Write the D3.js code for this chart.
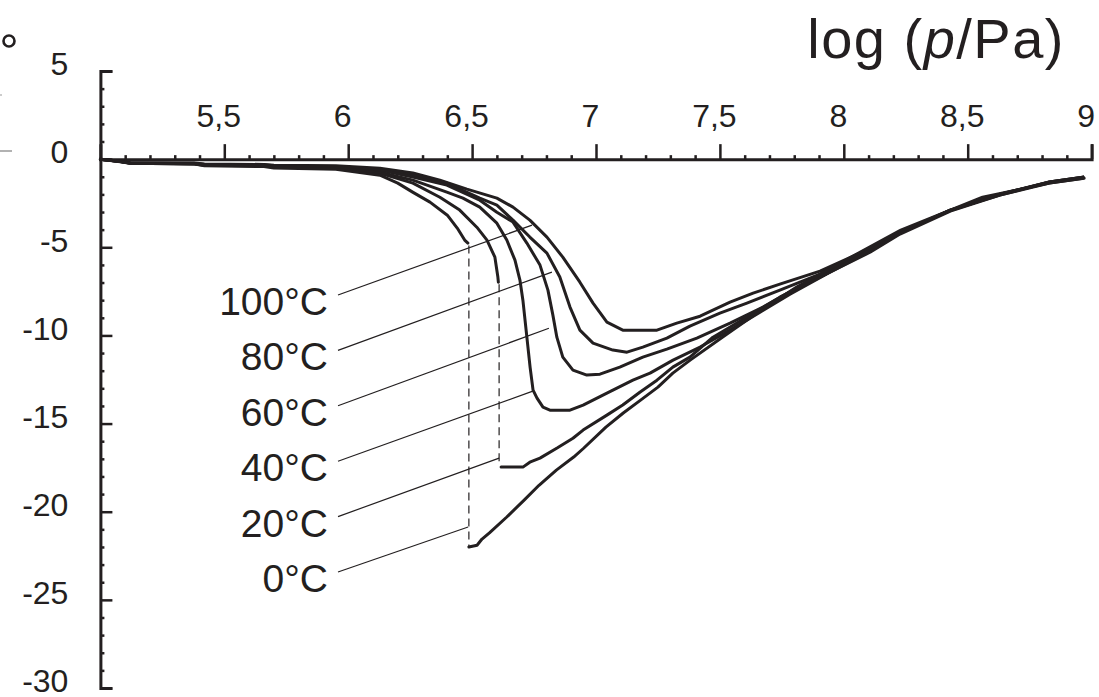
<!DOCTYPE html>
<html>
<head>
<meta charset="utf-8">
<script src="https://cdn.jsdelivr.net/npm/d3@7"></script>
<style>
  body { margin: 0; background: #fff; }
  svg { display: block; }
  text { font-family: "Liberation Sans", Arial, sans-serif; fill: #231f20; }
</style>
</head>
<body>
<svg id="chart" width="1099" height="697"></svg>
<script>
// Axis ticks and labels
const xTickValues = [5.5, 6, 6.5, 7, 7.5, 8, 8.5, 9];
const xTickLabels = ["5,5", "6", "6,5", "7", "7,5", "8", "8,5", "9"];
const yTickValues = [5, 0, -5, -10, -15, -20, -25, -30];
const yTickLabels = ["5", "0", "-5", "-10", "-15", "-20", "-25", "-30"];
const temperatures = ["100°C", "80°C", "60°C", "40°C", "20°C", "0°C"];

// Isotherms: [log(p/Pa), value]
const c100 = [[5.00,0],[5.08,-0.12],[5.12,-0.2],[5.38,-0.22],[5.42,-0.28],[5.66,-0.3],[5.7,-0.34],[5.95,-0.38],[6.128,-0.51],[6.261,-0.79],[6.370,-1.19],[6.479,-1.70],[6.600,-2.21],[6.665,-2.72],[6.733,-3.46],[6.802,-4.42],[6.866,-5.56],[6.935,-6.98],[6.988,-8.17],[7.044,-9.25],[7.108,-9.70],[7.246,-9.70],[7.326,-9.30],[7.420,-8.91],[7.541,-8.11],[7.634,-7.60],[7.742,-7.09],[7.904,-6.35],[8.065,-5.33],[8.227,-4.14],[8.43,-2.92],[8.63,-2.0],[8.83,-1.33],[8.965,-1.05]];
const c80 = [[5.00,0],[5.08,-0.12],[5.12,-0.22],[5.38,-0.24],[5.42,-0.3],[5.66,-0.32],[5.7,-0.38],[5.95,-0.42],[6.128,-0.57],[6.261,-0.91],[6.398,-1.36],[6.531,-2.21],[6.600,-2.61],[6.665,-3.46],[6.733,-4.42],[6.802,-5.33],[6.854,-6.69],[6.895,-8.39],[6.935,-9.70],[6.988,-10.44],[7.068,-10.83],[7.125,-10.95],[7.189,-10.66],[7.286,-10.15],[7.379,-9.47],[7.500,-8.74],[7.609,-8.17],[7.742,-7.43],[7.904,-6.52],[8.065,-5.39],[8.227,-4.20],[8.43,-2.89],[8.63,-1.99],[8.83,-1.30],[8.965,-1.02]];
const c60 = [[5.00,0],[5.08,-0.14],[5.12,-0.22],[5.38,-0.25],[5.42,-0.32],[5.66,-0.34],[5.7,-0.4],[5.95,-0.45],[6.128,-0.62],[6.261,-1.02],[6.398,-1.47],[6.531,-2.33],[6.600,-3.01],[6.665,-3.57],[6.721,-4.76],[6.774,-6.01],[6.806,-7.43],[6.826,-8.85],[6.842,-10.10],[6.866,-11.23],[6.907,-11.97],[6.963,-12.25],[7.016,-12.20],[7.096,-11.80],[7.189,-11.23],[7.286,-10.78],[7.407,-10.15],[7.541,-9.30],[7.674,-8.39],[7.795,-7.43],[7.944,-6.41],[8.106,-5.22],[8.227,-4.20],[8.43,-2.89],[8.63,-2.04],[8.83,-1.30],[8.965,-1.02]];
const c40 = [[5.00,0],[5.08,-0.14],[5.12,-0.22],[5.38,-0.26],[5.42,-0.33],[5.66,-0.36],[5.7,-0.42],[5.95,-0.48],[6.128,-0.74],[6.261,-1.19],[6.398,-1.87],[6.463,-2.21],[6.531,-2.72],[6.600,-3.63],[6.640,-4.59],[6.673,-5.73],[6.693,-6.86],[6.705,-8.0],[6.721,-10.1],[6.734,-11.8],[6.746,-13.1],[6.762,-13.56],[6.786,-14.07],[6.814,-14.24],[6.895,-14.24],[6.948,-13.95],[7.044,-13.27],[7.149,-12.54],[7.218,-12.14],[7.311,-11.40],[7.420,-10.66],[7.541,-9.70],[7.662,-8.68],[7.783,-7.66],[7.944,-6.41],[8.106,-5.28],[8.227,-4.25],[8.43,-2.95],[8.63,-2.04],[8.83,-1.36],[8.965,-1.08]];
const c20Upper = [[5.00,0],[5.08,-0.14],[5.12,-0.23],[5.38,-0.27],[5.42,-0.35],[5.66,-0.38],[5.7,-0.45],[5.95,-0.52],[6.13,-0.8],[6.261,-1.36],[6.370,-2.16],[6.450,-2.89],[6.519,-3.86],[6.560,-4.59],[6.592,-5.56],[6.604,-6.69],[6.606,-6.98]];
const c20Lower = [[6.617,-17.47],[6.705,-17.47],[6.733,-17.19],[6.774,-16.96],[6.843,-16.39],[6.907,-15.83],[6.948,-15.37],[7.044,-14.52],[7.108,-13.95],[7.177,-13.22],[7.246,-12.54],[7.310,-11.80],[7.379,-11.23],[7.472,-10.10],[7.609,-8.96],[7.742,-7.83],[7.904,-6.69],[8.065,-5.45],[8.227,-4.14],[8.43,-2.89],[8.63,-1.99],[8.83,-1.30],[8.965,-1.02]];
const c0Upper = [[5.00,0],[5.08,-0.15],[5.12,-0.24],[5.38,-0.28],[5.42,-0.38],[5.66,-0.42],[5.7,-0.5],[5.95,-0.58],[6.128,-0.91],[6.20,-1.36],[6.26,-1.87],[6.33,-2.44],[6.40,-3.18],[6.44,-3.91],[6.47,-4.59],[6.483,-4.76]];
const c0Lower = [[6.487,-22.0],[6.52,-21.9],[6.54,-21.55],[6.57,-21.2],[6.64,-20.3],[6.71,-19.34],[6.77,-18.5],[6.84,-17.64],[6.91,-16.9],[6.95,-16.4],[7.04,-15.2],[7.11,-14.4],[7.18,-13.67],[7.25,-12.93],[7.31,-12.14],[7.38,-11.4],[7.51,-10.1],[7.65,-8.73],[7.81,-7.26],[8.03,-5.56],[8.23,-4.03],[8.43,-2.89],[8.56,-2.16],[8.83,-1.36],[8.97,-1.08]];

// Jumps between branches (log p, upper value, lower value)
const jumpX = [6.487, 6.609];
const jumpTop = [-4.9, -7.1];
const jumpBottom = [-22.0, -17.3];

// Points on the isotherms that the label leaders touch
const leaderX = [6.742, 6.822, 6.810, 6.745, 6.609, 6.484];
const leaderY = [-3.74, -6.41, -9.59, -13.16, -16.96, -20.87];

const ink = "#231f20";
const svg = d3.select("#chart");

const x = d3.scaleLinear().domain([5, 9]).range([100.4, 1091.6]);
const y = d3.scaleLinear().domain([5, -30]).range([71, 688]);

// Fragments of the clipped vertical title at the left edge
svg.append("circle").attr("cx", 9).attr("cy", 41).attr("r", 5.5)
  .attr("fill", "none").attr("stroke", ink).attr("stroke-width", 2.6);
svg.append("line").attr("x1", 0).attr("x2", 12).attr("y1", 151).attr("y2", 151)
  .attr("stroke", "#999").attr("stroke-width", 1.5);
svg.append("line").attr("x1", 0).attr("x2", 2).attr("y1", 95).attr("y2", 95)
  .attr("stroke", "#bbb").attr("stroke-width", 1.5);

// X axis (along value 0, ticks pointing up)
const xMinor = d3.range(51, 91).map(d => d / 10).filter(d => Math.round(d * 10) % 5 !== 0);
const xAxisG = svg.append("g").attr("transform", `translate(0,${y(0)})`);
xAxisG.call(d3.axisTop(x).tickValues(xTickValues).tickSize(15).tickSizeOuter(15)
  .tickPadding(17).tickFormat((d, i) => xTickLabels[i]));
xAxisG.select(".domain").attr("stroke", ink).attr("stroke-width", 3);
xAxisG.selectAll(".tick line").attr("stroke", ink).attr("stroke-width", 2.5);
xAxisG.selectAll(".tick text").attr("dx", -6).style("font-size", "32px").attr("fill", ink);
const xMinorG = svg.append("g").attr("transform", `translate(0,${y(0)})`);
xMinorG.call(d3.axisTop(x).tickValues(xMinor).tickSize(4).tickFormat(""));
xMinorG.select(".domain").remove();
xMinorG.selectAll(".tick line").attr("stroke", ink).attr("stroke-width", 2.5);

// Y axis (ticks pointing into the plot)
const yMinor = d3.range(-30, 6).filter(d => d % 5 !== 0);
const yAxisG = svg.append("g").attr("transform", `translate(${x(5)},0)`);
yAxisG.call(d3.axisLeft(y).tickValues(yTickValues).tickSize(-12).tickSizeOuter(-12)
  .tickPadding(32).tickFormat((d, i) => yTickLabels[i]));
yAxisG.select(".domain").attr("stroke", ink).attr("stroke-width", 3);
yAxisG.selectAll(".tick line").attr("stroke", ink).attr("stroke-width", 2.5);
yAxisG.selectAll(".tick text").attr("dy", "0.12em").style("font-size", "32px").attr("fill", ink);
const yMinorG = svg.append("g").attr("transform", `translate(${x(5)},0)`);
yMinorG.call(d3.axisLeft(y).tickValues(yMinor).tickSize(-4).tickFormat(""));
yMinorG.select(".domain").remove();
yMinorG.selectAll(".tick line").attr("stroke", ink).attr("stroke-width", 2.5);

// Axis title
const title = svg.append("text").attr("x", 1065).attr("y", 58).attr("text-anchor", "end")
  .style("font-size", "56px").style("letter-spacing", "1.5px");
title.append("tspan").text("log (");
title.append("tspan").style("font-style", "italic").text("p");
title.append("tspan").text("/Pa)");

// Dashed jumps
svg.append("g").selectAll("line").data(jumpX).join("line")
  .attr("x1", d => x(d)).attr("x2", d => x(d))
  .attr("y1", (d, i) => y(jumpTop[i])).attr("y2", (d, i) => y(jumpBottom[i]))
  .attr("stroke", ink).attr("stroke-width", 1.2).attr("stroke-dasharray", "8,5");

// Label leaders
const labelRight = 328;
const labelBase = d3.range(6).map(i => 315 + i * 55.4);
svg.append("g").selectAll("line").data(leaderX).join("line")
  .attr("x1", labelRight + 10).attr("y1", (d, i) => labelBase[i] - 20)
  .attr("x2", d => x(d)).attr("y2", (d, i) => y(leaderY[i]))
  .attr("stroke", ink).attr("stroke-width", 1.2);

// Labels
svg.append("g").selectAll("text").data(temperatures).join("text")
  .attr("x", labelRight).attr("y", (d, i) => labelBase[i])
  .attr("text-anchor", "end").style("font-size", "39px").text(d => d);

// Isotherm curves
const line = d3.line().x(d => x(d[0])).y(d => y(d[1]));
const curves = [c100, c80, c60, c40, c20Upper, c20Lower, c0Upper, c0Lower];
svg.append("g").selectAll("path").data(curves).join("path")
  .attr("d", line).attr("fill", "none").attr("stroke", ink)
  .attr("stroke-width", 3).attr("stroke-linejoin", "round").attr("stroke-linecap", "round");
</script>
</body>
</html>
